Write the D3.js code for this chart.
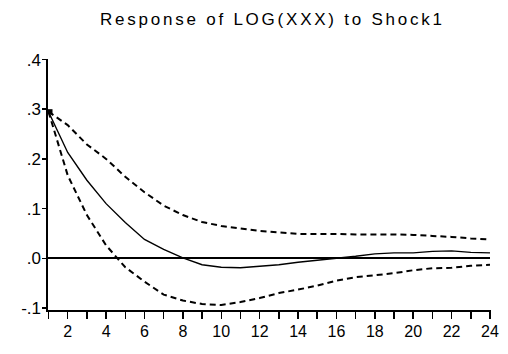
<!DOCTYPE html>
<html>
<head>
<meta charset="utf-8">
<script src="https://cdn.jsdelivr.net/npm/d3@7"></script>
<style>
  html, body { margin: 0; padding: 0; background: #fff; }
  svg { display: block; }
  text { font-family: "Liberation Sans", Arial, sans-serif; fill: #000; }
</style>
</head>
<body>
<svg id="chart" width="508" height="354"></svg>
<script>
// Impulse response horizon (periods)
const periods = [1, 2, 3, 4, 5, 6, 7, 8, 9, 10, 11, 12, 13, 14, 15, 16, 17, 18, 19, 20, 21, 22, 23, 24];
// Point response of LOG(XXX) to Shock1
const response = [0.295, 0.213, 0.157, 0.110, 0.072, 0.038, 0.018, 0.001, -0.013, -0.018, -0.019, -0.016,
                  -0.013, -0.008, -0.004, 0.000, 0.004, 0.009, 0.011, 0.011, 0.014, 0.015, 0.012, 0.011];
// Upper and lower +/- 2 S.E. bands
const upperBand = [0.295, 0.268, 0.229, 0.200, 0.164, 0.133, 0.106, 0.087, 0.073, 0.065, 0.060, 0.055,
                   0.052, 0.049, 0.049, 0.049, 0.048, 0.048, 0.048, 0.047, 0.045, 0.043, 0.040, 0.038];
const lowerBand = [0.295, 0.167, 0.087, 0.026, -0.018, -0.047, -0.073, -0.085, -0.092, -0.094, -0.088, -0.080,
                   -0.070, -0.063, -0.055, -0.045, -0.038, -0.034, -0.030, -0.024, -0.020, -0.019, -0.015, -0.013];
// Axis tick values and labels
const yTicks = [-0.1, 0.0, 0.1, 0.2, 0.3, 0.4];
const yTickLabels = ["-.1", ".0", ".1", ".2", ".3", ".4"];
const xLabelPeriods = [2, 4, 6, 8, 10, 12, 14, 16, 18, 20, 22, 24];
const title = "Response of LOG(XXX) to Shock1";

const svg = d3.select("#chart");

const x = d3.scaleLinear().domain([1, 24]).range([48.5, 490]);
const y = d3.scaleLinear().domain([-0.1, 0.4]).range([308, 59.5]);

const axisX = 47;     // vertical axis position
const axisY = 311;    // horizontal axis position

// Title
svg.append("text")
  .attr("x", 100)
  .attr("y", 25)
  .attr("font-size", 17)
  .attr("textLength", 342)
  .attr("lengthAdjust", "spacing")
  .text(title);

// Vertical axis line
svg.append("line")
  .attr("x1", axisX).attr("x2", axisX)
  .attr("y1", y(0.4) - 1).attr("y2", axisY + 1)
  .attr("stroke", "#000").attr("stroke-width", 2)
  .attr("shape-rendering", "crispEdges");

// Horizontal axis line
svg.append("line")
  .attr("x1", axisX - 1).attr("x2", x(24) + 1)
  .attr("y1", axisY).attr("y2", axisY)
  .attr("stroke", "#000").attr("stroke-width", 2)
  .attr("shape-rendering", "crispEdges");

// Y ticks and labels
const yt = svg.append("g");
yt.selectAll("line").data(yTicks).join("line")
  .attr("x1", axisX - 5).attr("x2", axisX)
  .attr("y1", d => y(d)).attr("y2", d => y(d))
  .attr("stroke", "#000").attr("stroke-width", 1.5)
  .attr("shape-rendering", "crispEdges");
yt.selectAll("text").data(yTicks).join("text")
  .attr("x", axisX - 6)
  .attr("y", d => y(d) + 6)
  .attr("text-anchor", "end")
  .attr("font-size", 17)
  .text((d, i) => yTickLabels[i]);

// X ticks at every period, labels at even periods
const xt = svg.append("g");
xt.selectAll("line").data(periods).join("line")
  .attr("x1", d => x(d)).attr("x2", d => x(d))
  .attr("y1", axisY).attr("y2", axisY + 8)
  .attr("stroke", "#000").attr("stroke-width", 1.5)
  .attr("shape-rendering", "crispEdges");
xt.selectAll("text").data(xLabelPeriods).join("text")
  .attr("x", d => x(d))
  .attr("y", 337)
  .attr("text-anchor", "middle")
  .attr("font-size", 16)
  .text(d => d);

// Zero reference line
svg.append("line")
  .attr("x1", axisX).attr("x2", x(24))
  .attr("y1", y(0)).attr("y2", y(0))
  .attr("stroke", "#000").attr("stroke-width", 2)
  .attr("shape-rendering", "crispEdges");

const line = d3.line()
  .x((d, i) => x(periods[i]))
  .y(d => y(d));

// Confidence bands
[upperBand, lowerBand].forEach(band => {
  svg.append("path")
    .attr("d", line(band))
    .attr("fill", "none")
    .attr("stroke", "#000")
    .attr("stroke-width", 2)
    .attr("stroke-dasharray", "6,4");
});

// Point response
svg.append("path")
  .attr("d", line(response))
  .attr("fill", "none")
  .attr("stroke", "#000")
  .attr("stroke-width", 1.4);

// Marker where all three series start
svg.append("rect")
  .attr("x", x(periods[0]) - 1)
  .attr("y", y(response[0]) - 2.5)
  .attr("width", 5).attr("height", 5)
  .attr("fill", "#000");
</script>
</body>
</html>
